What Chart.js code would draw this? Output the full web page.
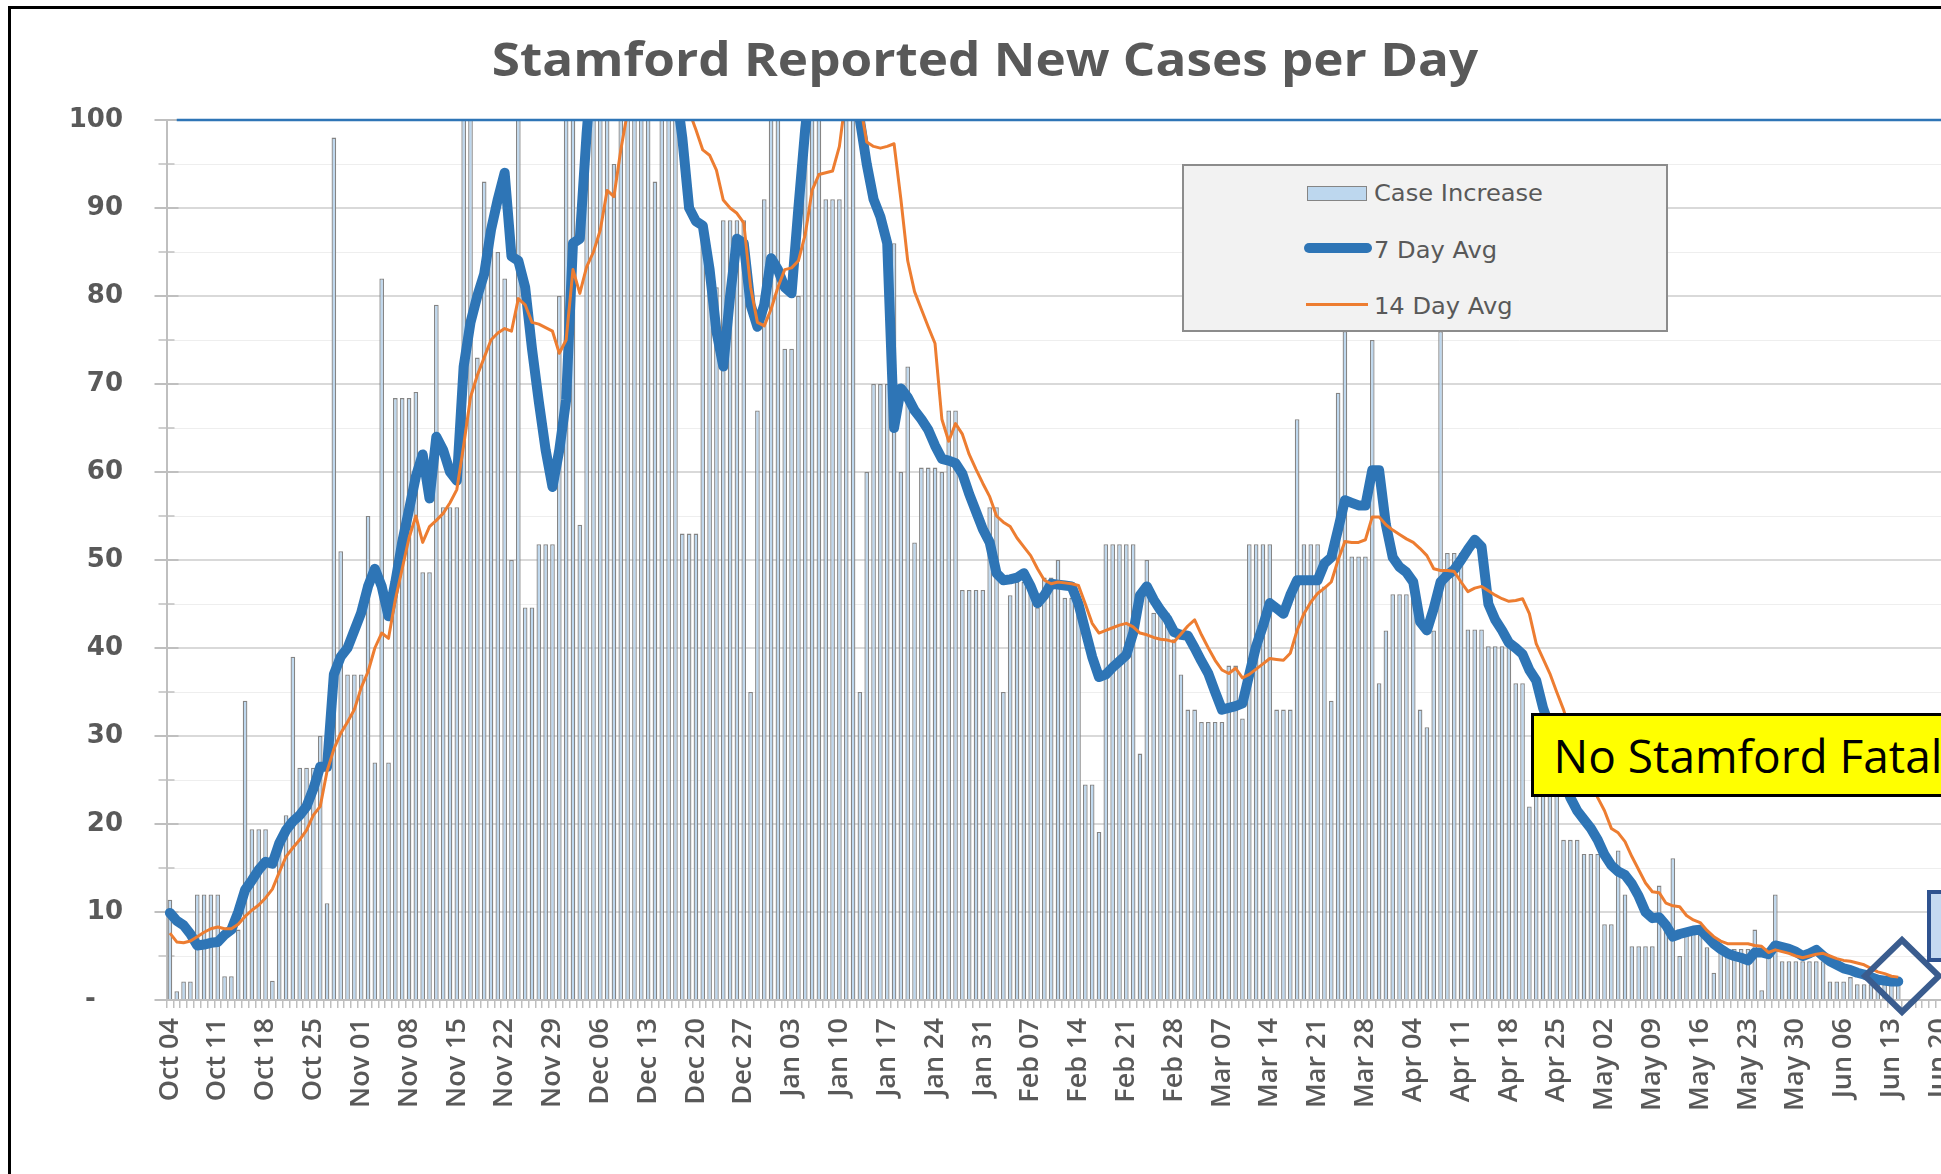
<!DOCTYPE html>
<html>
<head>
<meta charset="utf-8">
<script src="https://cdn.jsdelivr.net/npm/chart.js@4.4.1/dist/chart.umd.min.js"></script>
<style>
html,body{margin:0;padding:0;background:#fff;width:1941px;height:1174px;overflow:hidden;}
#frame{position:absolute;left:8px;top:6px;width:2300px;height:1400px;border:3.5px solid #000;box-sizing:border-box;}
#c{position:absolute;left:0;top:0;}
#title{position:absolute;left:0;top:35px;width:1970px;text-align:center;font-family:'Open Sans';font-weight:bold;font-size:47px;line-height:47px;color:#595959;white-space:nowrap;transform:scaleX(1.09);transform-origin:985px 0;}
#legend{position:absolute;left:1182px;top:164px;width:486px;height:168px;background:#F2F2F2;border:2px solid #8C8C8C;box-sizing:border-box;}
#legend .sw{position:absolute;box-sizing:border-box;}
#legend .tx{position:absolute;font-family:'DejaVu Sans';font-size:23px;line-height:30px;color:#595959;white-space:nowrap;transform:scaleX(1.05);transform-origin:0 0;}
#note{position:absolute;left:1531px;top:713px;width:700px;height:84px;background:#FFFF00;border:3px solid #000;box-sizing:border-box;padding:16px 0 0 19.5px;font-family:'Open Sans';font-size:46px;line-height:46px;color:#000;white-space:nowrap;}
#bluebox{position:absolute;left:1927px;top:890px;width:300px;height:72px;background:#C5D9F1;border:4px solid #2F528F;box-sizing:border-box;}
#marks{position:absolute;left:0;top:0;}
</style>
</head>
<body>
<div id="frame"></div>
<canvas id="c" width="2100" height="1174"></canvas>
<div id="title">Stamford Reported New Cases per Day</div>
<div id="legend"></div>
<div id="note">No Stamford Fatalities</div>
<svg id="marks" width="1941" height="1174"><polygon points="1902,940 1939,976 1902,1012 1865,976" fill="none" stroke="#3A5C8E" stroke-width="6" stroke-linejoin="miter"/></svg>
<div id="bluebox"></div>
<script>
// ---------- data ----------
const startDate = Date.UTC(2020, 9, 4);          // Oct 04
const monthNames = ['Jan','Feb','Mar','Apr','May','Jun','Jul','Aug','Sep','Oct','Nov','Dec'];
const categoryCount = 264;                        // Oct 04 .. Jun 24 (axis continues past the data)
const labelEvery = 7;                             // weekly tick labels
const yTickValues = {min: 0, max: 100, step: 2.5, major: 10};
const referenceLevel = 100;                       // blue line along the top of the plot
const referenceStartIndex = 1;

const caseIncrease = [
11.4, 1, 2.1, 2.1, 12, 12, 12, 12, 2.7, 2.7,
8, 34, 19.4, 19.4, 19.4, 2.2, 17, 21, 39, 26.4,
26.4, 26.4, 30, 11, 98, 51, 37, 37, 37, 55,
27, 82, 27, 68.4, 68.4, 68.4, 69.1, 48.6, 48.6, 79,
56, 56, 56, 105, 110, 73, 93, 88, 85, 82,
50, 103, 44.6, 44.6, 51.8, 51.8, 51.8, 80, 120, 115,
54, 112, 118, 125, 130, 95, 120, 128, 135, 122,
118, 93, 115, 110, 105, 53, 53, 53, 86.6, 81,
81, 88.6, 88.6, 88.6, 88.6, 35, 67, 91, 110, 105,
74, 74, 80, 112, 120, 108, 91, 91, 91, 110,
125, 35, 60, 70, 70, 70, 86, 60, 72, 52,
60.5, 60.5, 60.5, 60, 67, 67, 46.6, 46.6, 46.6, 46.6,
56, 56, 35, 46, 47.5, 47.5, 47.7, 44.6, 48, 48,
50, 45.7, 45.7, 44.3, 24.5, 24.5, 19.1, 51.8, 51.8, 51.8,
51.8, 51.8, 28, 50, 44, 44, 44, 41, 37, 33,
33, 31.6, 31.6, 31.6, 31.6, 38, 38, 32, 51.8, 51.8,
51.8, 51.8, 33, 33, 33, 66, 51.8, 51.8, 51.8, 47,
34, 69, 76, 50.4, 50.4, 50.4, 75, 36, 42, 46.1,
46.1, 46.1, 46, 33, 31, 42, 76, 50.8, 50.8, 50.8,
42.1, 42.1, 42.1, 40.2, 40.2, 40.2, 40.2, 36, 36, 22,
30, 30, 30, 25, 18.2, 18.2, 18.2, 16.6, 16.6, 16.6,
8.6, 8.6, 17, 12, 6.1, 6.1, 6.1, 6.1, 13, 9,
16.1, 5, 7.5, 7.5, 7.5, 6, 3.1, 5.8, 5.8, 5.8,
5.8, 5.8, 8, 1.1, 5, 12, 4.4, 4.4, 4.4, 4.4,
4.4, 4.4, 4.4, 2.1, 2.1, 2.1, 2.6, 1.8, 1.8, 1.8,
1.8, 1.8, 1.8, 1.8
];

const avg7 = [
9.9, 9.0, 8.5, 7.5, 6.2, 6.3, 6.5, 6.6, 7.4, 8.0,
10, 12.5, 13.6, 14.8, 15.7, 15.5, 17.8, 19.3, 20.3, 21,
22, 24, 26.5, 26.5, 37, 39, 40, 42, 44, 47,
49, 47, 43.6, 47.5, 52, 55.7, 59.5, 62, 57, 64,
62.5, 60, 59, 72, 77, 80, 82.5, 87.5, 91, 94,
84.5, 84, 81, 74, 68, 62.5, 58.3, 62.5, 68.2, 86,
86.5, 98.5, 108, 112, 118, 122, 125, 126, 124, 120,
118, 116, 112, 108, 104, 98, 90, 88.5, 88, 83,
76, 72, 80, 86.5, 86, 79, 76.5, 79, 84.3, 83,
81, 80.3, 90, 99, 106, 112, 116, 118, 115, 110,
104, 100, 95, 91, 89, 86, 65, 69.5, 68.5, 67,
66, 64.8, 63, 61.5, 61.3, 61, 59.8, 57.5, 55.5, 53.5,
52, 48.5, 47.7, 47.8, 48, 48.5, 47, 45.1, 46, 47.3,
47.2, 47.1, 47, 45, 42, 39, 36.7, 37, 37.8, 38.5,
39.2, 41.7, 46, 47, 45.5, 44.3, 43.3, 41.8, 41.5, 41.4,
40, 38.5, 37.1, 35, 33, 33.2, 33.4, 33.7, 37, 40.2,
42.5, 45.1, 44.5, 43.9, 46, 47.7, 47.7, 47.7, 47.7, 49.6,
50.3, 53.5, 56.8, 56.5, 56.2, 56.2, 60.2, 60.2, 54, 50.3,
49.2, 48.6, 47.5, 43, 42, 44.5, 47.5, 48.3, 48.9, 50,
51.2, 52.3, 51.5, 45, 43.2, 42, 40.6, 40, 39.3, 37.5,
36.3, 33.2, 31, 28, 25, 23, 21.5, 20.5, 19.5, 18.2,
16.5, 15.3, 14.6, 14.2, 13.2, 11.8, 10, 9.3, 9.4, 8.5,
7.2, 7.5, 7.7, 7.9, 8.0, 7.2, 6.4, 5.8, 5.3, 5.0,
4.8, 4.5, 5.4, 5.4, 5.2, 6.2, 6.0, 5.8, 5.5, 5.0,
5.3, 5.7, 5.0, 4.4, 4.0, 3.6, 3.4, 3.1, 2.9, 2.6,
2.3, 2.2, 2.1, 2.1
];

const avg14 = [
7.6, 6.6, 6.5, 6.7, 7.2, 7.7, 8.1, 8.3, 8.1, 8.1,
8.6, 9.5, 10.2, 10.8, 11.6, 12.6, 14.5, 16.3, 17.3, 18.2,
19.3, 21, 22, 26, 28.5, 30.3, 31.6, 33, 35.5, 37.3,
40, 41.7, 41.1, 45.5, 49, 52.5, 55, 52, 53.8, 54.5,
55.3, 56.5, 58, 63, 68.5, 71, 73, 75, 75.8, 76.3,
76, 79.7, 79, 77, 76.8, 76.4, 76, 73.5, 75, 83,
80.3, 83.3, 85, 87.5, 92, 91.3, 96.6, 101, 104, 108,
110, 112, 110, 108, 105, 103, 101, 98.9, 96.6, 96,
94.3, 90.9, 90, 89.4, 88.3, 81, 77, 76.6, 78.5, 81,
83, 83.2, 84, 87, 92, 93.8, 94, 94.2, 97, 103,
104, 102, 97.5, 97, 96.8, 97, 97.3, 91, 84, 80.5,
78.5, 76.5, 74.6, 66, 63.5, 65.5, 64.3, 62, 60.3, 58.7,
57.2, 55, 54.3, 53.8, 52.5, 51.5, 50.5, 49, 47.7, 47.3,
47.5, 47.4, 47.3, 47.1, 45, 42.8, 41.7, 42, 42.3, 42.6,
42.8, 42.4, 41.7, 41.5, 41.2, 41, 40.9, 40.7, 41.6, 42.5,
43.2, 41.5, 40, 38.6, 37.5, 37.1, 37.7, 36.6, 37, 37.6,
38.2, 38.8, 38.7, 38.6, 39.4, 42, 43.9, 45.2, 46.2, 46.8,
47.5, 50, 52.1, 52, 52, 52.3, 54.9, 54.9, 54, 53.4,
52.9, 52.4, 52, 51.3, 50.5, 49, 48.8, 48.8, 48.7, 47.5,
46.4, 46.8, 47, 46.5, 46, 45.6, 45.3, 45.4, 45.6, 43.9,
40.5, 38.8, 37.1, 35, 33, 30.5, 28.8, 27.3, 25, 23,
21.5, 19.5, 19, 18, 16.3, 14.8, 13.3, 12.3, 12.2, 11,
10.7, 10.6, 9.6, 9.1, 8.8, 7.9, 7.2, 6.7, 6.4, 6.4,
6.4, 6.4, 6.2, 6.1, 5.4, 5.7, 5.5, 5.3, 5.0, 4.8,
5.0, 5.2, 5.3, 5.0, 4.7, 4.5, 4.4, 4.2, 4.0, 3.6,
3.2, 3.0, 2.7, 2.6
];

const seriesNames = ['Case Increase', '7 Day Avg', '14 Day Avg'];

// ---------- categories ----------
const categories = [];
for (let i = 0; i < categoryCount; i++) {
  const d = new Date(startDate + i * 86400000);
  categories.push(monthNames[d.getUTCMonth()] + ' ' + String(d.getUTCDate()).padStart(2, '0'));
}

const GRID_MAJOR = '#D9D9D9', GRID_MINOR = '#EEEEEE', AXIS = '#BFBFBF', TEXT = '#595959';

const axisDecor = {
  id: 'axisDecor',
  beforeDatasetsDraw(chart) {
    const {ctx, chartArea, scales: {y}} = chart;
    ctx.save();
    ctx.strokeStyle = AXIS;
    for (const t of y.ticks) {
      const py = y.getPixelForValue(t.value);
      const major = t.value % yTickValues.major === 0;
      const half = major ? 12 : 8;
      ctx.lineWidth = major ? 2 : 1.5;
      ctx.beginPath();
      ctx.moveTo(chartArea.left - half, py);
      ctx.lineTo(chartArea.left + half, py);
      ctx.stroke();
    }
    ctx.restore();
  },
  afterDatasetsDraw(chart) {
    const {ctx, chartArea, scales: {x, y}} = chart;
    const py = y.getPixelForValue(referenceLevel);
    ctx.save();
    ctx.strokeStyle = '#2E75B6';
    ctx.lineWidth = 2.5;
    ctx.beginPath();
    ctx.moveTo(x.getPixelForValue(referenceStartIndex), py);
    ctx.lineTo(chartArea.right, py);
    ctx.stroke();
    ctx.restore();
  }
};

const chart = new Chart(document.getElementById('c'), {
  type: 'bar',
  data: {
    labels: categories,
    datasets: [
      {type: 'bar', label: seriesNames[0], data: caseIncrease, backgroundColor: '#BDD7EE', borderColor: '#858585',
       borderWidth: 1.3, barPercentage: 0.68, categoryPercentage: 1.0, order: 3},
      {type: 'line', label: seriesNames[1], data: avg7, borderColor: '#2E75B6', borderWidth: 10, pointRadius: 0,
       tension: 0, fill: false, borderJoinStyle: 'round', borderCapStyle: 'round', order: 2},
      {type: 'line', label: seriesNames[2], data: avg14, borderColor: '#ED7D31', borderWidth: 3, pointRadius: 0,
       tension: 0, fill: false, borderJoinStyle: 'round', order: 1}
    ]
  },
  options: {
    responsive: false,
    animation: false,
    events: [],
    layout: {padding: {left: 0, right: 130, top: 120, bottom: 0}},
    plugins: {legend: {display: false}, tooltip: {enabled: false}, title: {display: false}},
    scales: {
      x: {
        type: 'category',
        offset: true,
        grid: {display: true, drawOnChartArea: false, drawTicks: true, tickLength: 8, color: AXIS, lineWidth: 1.5, offset: true},
        border: {display: true, color: AXIS, width: 2},
        ticks: {
          autoSkip: false, maxRotation: 90, minRotation: 90, padding: 10,
          font: {family: 'Open Sans', size: 27, weight: '600'}, color: TEXT,
          callback: function (val, idx) { return idx % labelEvery === 0 ? this.getLabelForValue(val) : ''; }
        },
        afterFit: (s) => { s.height = 174; }
      },
      y: {
        min: yTickValues.min, max: yTickValues.max,
        grid: {
          drawTicks: false,
          color: (c) => (c.tick && c.tick.value % yTickValues.major === 0) ? GRID_MAJOR : GRID_MINOR,
          lineWidth: (c) => (c.tick && c.tick.value % yTickValues.major === 0) ? 2 : 1
        },
        border: {display: true, color: AXIS, width: 2},
        ticks: {
          stepSize: yTickValues.step, padding: 43.5,
          font: {family: 'DejaVu Sans', size: 26, weight: 'bold'}, color: TEXT,
          callback: (v) => v === 0 ? '-   ' : (v % yTickValues.major === 0 ? String(v) : '')
        },
        afterFit: (s) => { s.width = 166.5; }
      }
    }
  },
  plugins: [axisDecor]
});

// ---------- HTML legend built from the chart's datasets ----------
const legend = document.getElementById('legend');
const ds = chart.data.datasets;
const rows = [
  {sw: {left: 123, top: 20, width: 60, height: 15, background: ds[0].backgroundColor, border: '1.5px solid ' + ds[0].borderColor}, tx: {left: 189.5, top: 12}},
  {sw: {left: 120, top: 77, width: 68, height: 10, background: ds[1].borderColor, borderRadius: '5px'}, tx: {left: 190, top: 68.5}},
  {sw: {left: 122, top: 136.5, width: 62, height: 3, background: ds[2].borderColor}, tx: {left: 190, top: 124.5}}
];
rows.forEach((r, i) => {
  const s = document.createElement('div');
  s.className = 'sw';
  s.style.left = r.sw.left + 'px'; s.style.top = r.sw.top + 'px';
  s.style.width = r.sw.width + 'px'; s.style.height = r.sw.height + 'px';
  s.style.background = r.sw.background;
  if (r.sw.border) s.style.border = r.sw.border;
  if (r.sw.borderRadius) s.style.borderRadius = r.sw.borderRadius;
  legend.appendChild(s);
  const t = document.createElement('div');
  t.className = 'tx';
  t.style.left = r.tx.left + 'px'; t.style.top = r.tx.top + 'px';
  t.textContent = ds[i].label;
  legend.appendChild(t);
});
</script>
</body>
</html>
